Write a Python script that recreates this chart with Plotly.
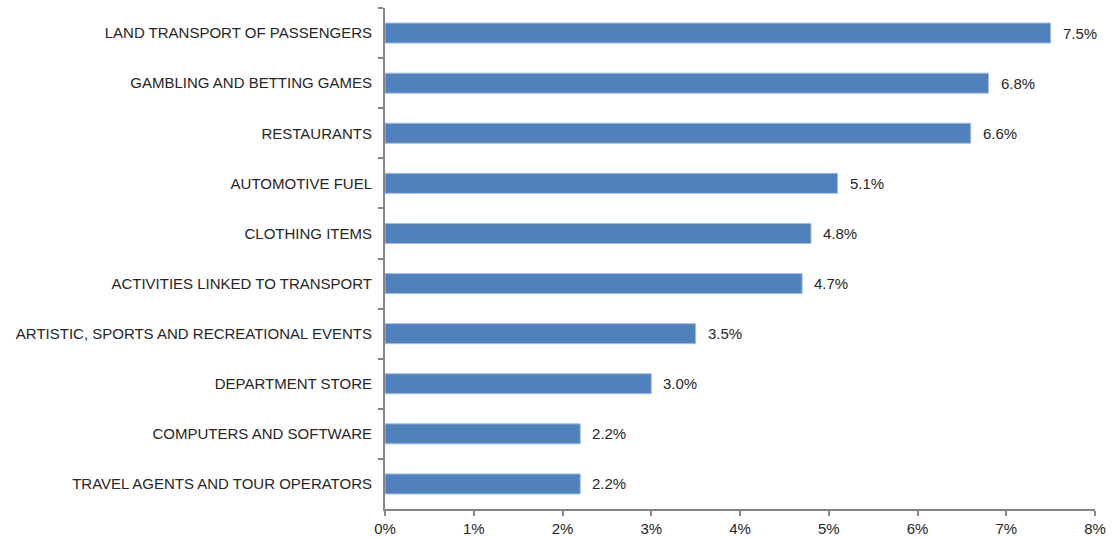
import plotly.graph_objects as go

categories = [
    "LAND TRANSPORT OF PASSENGERS",
    "GAMBLING AND BETTING GAMES",
    "RESTAURANTS",
    "AUTOMOTIVE FUEL",
    "CLOTHING ITEMS",
    "ACTIVITIES LINKED TO TRANSPORT",
    "ARTISTIC, SPORTS AND RECREATIONAL EVENTS",
    "DEPARTMENT STORE",
    "COMPUTERS AND SOFTWARE",
    "TRAVEL AGENTS AND TOUR OPERATORS",
]
values = [7.5, 6.8, 6.6, 5.1, 4.8, 4.7, 3.5, 3.0, 2.2, 2.2]
x_ticks = [0, 1, 2, 3, 4, 5, 6, 7, 8]
x_tick_labels = [f"{t}%" for t in x_ticks]

FONT = dict(family="Liberation Sans, Arial, sans-serif", size=15, color="#262626")
AXIS_COLOR = "#868686"

fig = go.Figure(
    go.Bar(
        x=values,
        y=categories,
        orientation="h",
        marker=dict(color="#4F81BD", line=dict(color="#A7BFDE", width=1)),
        hoverinfo="x+y",
    )
)

# value labels to the right of each bar
for cat, v in zip(categories, values):
    fig.add_annotation(
        x=v, y=cat, text=f"{v:.1f}%", showarrow=False,
        xanchor="left", xshift=10, font=FONT,
    )

fig.update_layout(
    width=1112, height=537,
    margin=dict(l=385, r=17, t=8, b=28),
    paper_bgcolor="white", plot_bgcolor="white",
    bargap=0.6, showlegend=False, font=FONT,
)
fig.update_xaxes(
    range=[0, 8], tickvals=x_ticks, ticktext=x_tick_labels,
    showgrid=False, zeroline=False, automargin=False,
    showline=True, linecolor=AXIS_COLOR, linewidth=2,
    ticks="outside", ticklen=5, tickcolor=AXIS_COLOR, tickwidth=2,
    tickfont=FONT,
)
fig.update_yaxes(
    autorange="reversed", showgrid=False, automargin=False,
    showline=True, linecolor=AXIS_COLOR, linewidth=2,
    ticks="outside", tickson="boundaries", ticklen=5,
    tickcolor=AXIS_COLOR, tickwidth=2,
    ticklabelstandoff=8, tickfont=FONT,
)

fig.write_html("out.html")
